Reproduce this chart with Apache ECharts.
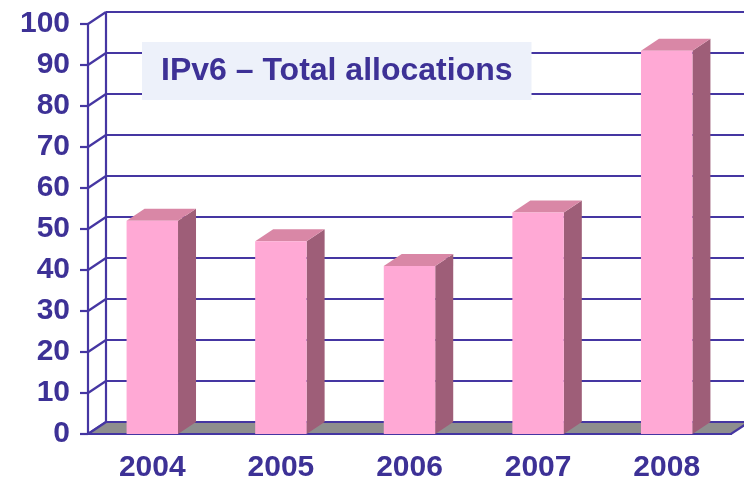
<!DOCTYPE html>
<html>
<head>
<meta charset="utf-8">
<script src="https://cdn.jsdelivr.net/npm/echarts@6/dist/echarts.min.js"></script>
<style>
  html, body { margin: 0; padding: 0; background: #fff; }
  #chart { width: 744px; height: 482px; }
</style>
</head>
<body>
<div id="chart"></div>
<script>
// data
const years = ['2004', '2005', '2006', '2007', '2008'];
const allocations = [52, 47, 41, 54, 93.5];
const yTicks = [0, 10, 20, 30, 40, 50, 60, 70, 80, 90, 100];

const ink = '#3d3196';
const lineCol = '#4536a2';
const depthX = 18, depthY = -12; // 3d depth offset

const chart = echarts.init(document.getElementById('chart'));

// back wall: connectors + gridlines
function renderWall(params, api) {
  const cs = params.coordSys;
  const v = api.value(1);
  const y = api.coord([0, v])[1];
  const x0 = cs.x, x1 = cs.x + cs.width;
  const children = [
    { type: 'line', shape: { x1: x0, y1: y, x2: x0 + depthX, y2: y + depthY },
      style: { stroke: lineCol, lineWidth: 2.2 } },
    { type: 'line', shape: { x1: x0 + depthX, y1: y + depthY, x2: x1 + depthX + 10, y2: y + depthY },
      style: { stroke: lineCol, lineWidth: 2.2 } }
  ];
  if (params.dataIndex === 0) {
    const yTop = api.coord([0, yTicks[yTicks.length - 1]])[1];
    children.push({ type: 'polygon',
      shape: { points: [[x0, y], [x1, y], [x1 + depthX, y + depthY], [x0 + depthX, y + depthY]] },
      style: { fill: '#8e8e8e', stroke: lineCol, lineWidth: 2.2 } });
    children.push({ type: 'line', shape: { x1: x0 + depthX, y1: yTop + depthY, x2: x0 + depthX, y2: y + depthY },
      style: { stroke: lineCol, lineWidth: 2.2 } });
  }
  return { type: 'group', children: children };
}

function renderBar(params, api) {
  const top = api.coord([api.value(0), api.value(1)]);
  const base = api.coord([api.value(0), 0]);
  const w = api.size([1, 0])[0] * 0.4;
  const xl = top[0] - w / 2, xr = top[0] + w / 2;
  return {
    type: 'group',
    children: [
      { type: 'polygon', shape: { points: [[xr, top[1]], [xr + depthX, top[1] + depthY], [xr + depthX, base[1] + depthY], [xr, base[1]]] },
        style: { fill: '#9e5e78' } },
      { type: 'polygon', shape: { points: [[xl, top[1]], [xr, top[1]], [xr + depthX, top[1] + depthY], [xl + depthX, top[1] + depthY]] },
        style: { fill: '#d987a6' } },
      { type: 'rect', shape: { x: xl, y: top[1], width: w, height: base[1] - top[1] },
        style: { fill: '#ffa9d5' } }
    ]
  };
}

chart.setOption({
  backgroundColor: '#fff',
  animation: false,
  title: {
    text: 'IPv6 – Total allocations',
    left: 142, top: 42,
    padding: [13, 19, 13, 19],
    backgroundColor: '#edf1fa',
    textStyle: { color: ink, fontSize: 32, fontWeight: 'bold', fontFamily: 'Liberation Sans, Arial', lineHeight: 32 }
  },
  grid: { left: 88, right: 13, top: 24, bottom: 48, outerBoundsMode: 'none' },
  xAxis: {
    type: 'category',
    data: years,
    axisLine: { lineStyle: { color: lineCol, width: 2.2 } },
    axisTick: { length: 7, lineStyle: { color: lineCol, width: 2.2 } },
    axisLabel: { color: ink, fontSize: 30, fontWeight: 'bold', fontFamily: 'Liberation Sans, Arial', margin: 19 },
    splitLine: { show: false }
  },
  yAxis: {
    type: 'value',
    min: 0, max: 100, interval: 10,
    axisLine: { show: true, lineStyle: { color: lineCol, width: 2.2 } },
    axisTick: { show: true, length: 8, lineStyle: { color: lineCol, width: 2.2 } },
    axisLabel: { color: ink, fontSize: 30, fontWeight: 'bold', fontFamily: 'Liberation Sans, Arial', margin: 18 },
    splitLine: { show: false }
  },
  series: [
    {
      type: 'custom', name: 'wall', renderItem: renderWall, clip: false, z: 1,
      data: yTicks.map(v => [0, v]), silent: true
    },
    {
      type: 'custom', name: 'IPv6', renderItem: renderBar, clip: false, z: 3,
      data: allocations.map((v, i) => [i, v])
    }
  ]
});
</script>
</body>
</html>
